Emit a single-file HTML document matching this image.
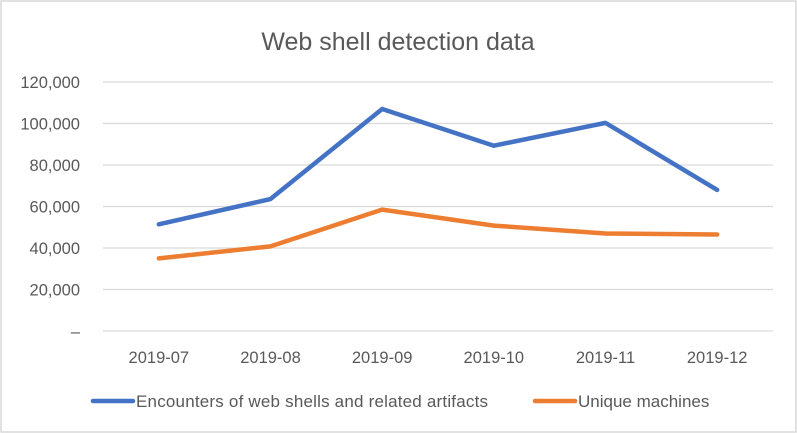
<!DOCTYPE html>
<html><head><meta charset="utf-8"><style>
body{margin:0;background:#fff}
svg{display:block;font-family:"Liberation Sans",sans-serif}
</style></head><body>
<svg id="chart" width="797" height="433">
<rect x="1" y="1" width="795" height="431" fill="#fff" stroke="#d9d9d9" stroke-width="1.5"/>
<text x="398" y="50" text-anchor="middle" font-size="25" fill="#595959">Web shell detection data</text>
<g id="grid"></g><g id="yt"></g><g id="xt"></g><g id="lines"></g>
<g>
<line x1="93" y1="401" x2="133" y2="401" stroke="#4472c4" stroke-width="4.5" stroke-linecap="round"/>
<text x="136" y="407" font-size="17" fill="#595959" textLength="352">Encounters of web shells and related artifacts</text>
<line x1="535" y1="401" x2="575" y2="401" stroke="#ed7d31" stroke-width="4.5" stroke-linecap="round"/>
<text x="578" y="407" font-size="17" fill="#595959">Unique machines</text>
</g>
</svg>
<script>
const categories=["2019-07","2019-08","2019-09","2019-10","2019-11","2019-12"];
const encounters=[51400,63600,107000,89300,100300,68000];
const unique=[35000,40800,58500,50800,47000,46500];
const yTicks=[0,20000,40000,60000,80000,100000,120000];
const yTickLabels=["–","20,000","40,000","60,000","80,000","100,000","120,000"];
const NS="http://www.w3.org/2000/svg";
const x0=103,x1=773,yb=331,yt=82,ymax=120000;
const xs=i=>x0+(x1-x0)/categories.length*(i+0.5);
const ys=v=>yb-(yb-yt)*v/ymax;
function mk(tag,attrs,parent,txt){const e=document.createElementNS(NS,tag);for(const k in attrs)e.setAttribute(k,attrs[k]);if(txt!==undefined)e.textContent=txt;document.getElementById(parent).appendChild(e);return e;}
yTicks.forEach((v,i)=>{
 const g=mk("line",{x1:x0,x2:x1,y1:ys(v),y2:ys(v),stroke:"#d9d9d9","stroke-width":1.3},"grid");
 
 
 const t=mk("text",{x:80,y:ys(v)+6,"text-anchor":"end","font-size":"16.5",fill:"#595959"},"yt",yTickLabels[i]);
 
 
});
categories.forEach((c,i)=>{
 const t=mk("text",{x:xs(i),y:363,"text-anchor":"middle","font-size":"16.5",fill:"#595959"},"xt",c);
 
 
});
[[encounters,"#4472c4","series-encounters"],[unique,"#ed7d31","series-unique-machines"]].forEach(([d,col,n])=>{
 const p=mk("polyline",{points:d.map((v,i)=>xs(i)+","+ys(v)).join(" "),fill:"none",stroke:col,"stroke-width":4.5,"stroke-linecap":"round","stroke-linejoin":"round"},"lines");
 
 
});
</script>
</body></html>
